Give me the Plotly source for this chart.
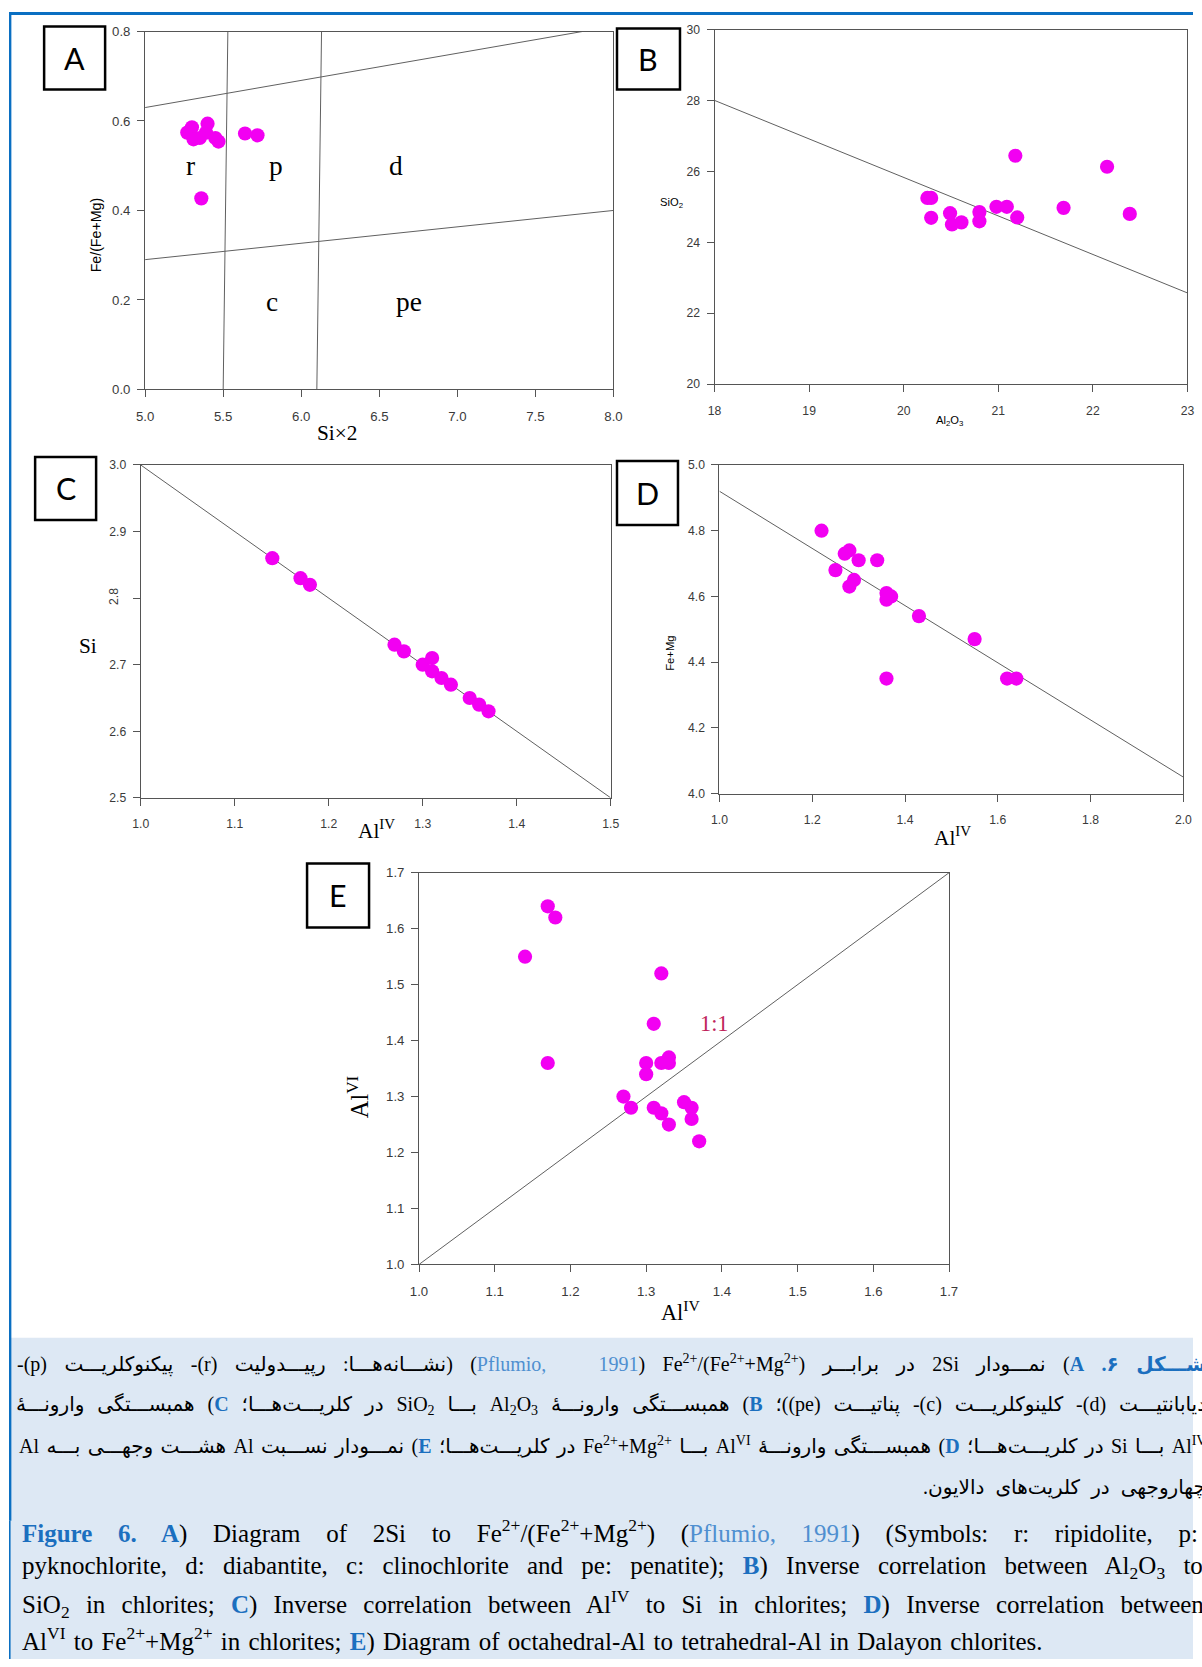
import plotly.graph_objects as go

W, H = 1202, 1667

# ---------------- data ----------------
# A) Fe/(Fe+Mg) vs Si x2 (Pflumio 1991)
a_si2 = [5.27, 5.30, 5.31, 5.35, 5.39, 5.40, 5.45, 5.47, 5.64, 5.72, 5.36]
a_fe_ratio = [0.574, 0.586, 0.559, 0.562, 0.574, 0.594, 0.562, 0.554, 0.572, 0.568, 0.427]
a_vline1_x = [5.50, 5.53]
a_vline2_x = [6.10, 6.13]
a_vline_y = [0.0, 0.8]
a_upper_x = [5.0, 7.8]
a_upper_y = [0.63, 0.80]
a_lower_x = [5.0, 8.0]
a_lower_y = [0.29, 0.40]
a_field_names = ["r", "p", "d", "c", "pe"]
a_field_x = [5.29, 5.84, 6.61, 5.81, 6.69]
a_field_y = [0.50, 0.50, 0.50, 0.195, 0.195]

# B) SiO2 vs Al2O3
b_al2o3 = [20.25, 20.29, 20.29, 20.49, 20.51, 20.61, 20.80, 20.80, 20.98, 21.09, 21.20, 21.18, 21.69, 22.15, 22.39]
b_sio2 = [25.25, 25.25, 24.69, 24.82, 24.50, 24.56, 24.85, 24.59, 25.00, 25.00, 24.70, 26.44, 24.97, 26.13, 24.80]
b_fit_x = [18, 23]
b_fit_y = [28.0, 22.57]

# C) Si vs Al(IV)
c_aliv = [1.14, 1.17, 1.18, 1.27, 1.28, 1.30, 1.31, 1.31, 1.32, 1.33, 1.35, 1.36, 1.37]
c_si = [2.86, 2.83, 2.82, 2.73, 2.72, 2.70, 2.71, 2.69, 2.68, 2.67, 2.65, 2.64, 2.63]
c_fit_x = [1.0, 1.5]
c_fit_y = [3.0, 2.5]

# D) Fe+Mg vs Al(IV)
d_aliv = [1.22, 1.25, 1.27, 1.28, 1.28, 1.29, 1.30, 1.34, 1.36, 1.36, 1.37, 1.36, 1.43, 1.55, 1.62, 1.64]
d_femg = [4.80, 4.68, 4.73, 4.74, 4.63, 4.65, 4.71, 4.71, 4.61, 4.59, 4.60, 4.35, 4.54, 4.47, 4.35, 4.35]
d_fit_x = [1.0, 2.0]
d_fit_y = [4.92, 4.05]

# E) Al(VI) vs Al(IV)
e_aliv = [1.17, 1.18, 1.14, 1.32, 1.31, 1.17, 1.30, 1.30, 1.32, 1.33, 1.33, 1.27, 1.28, 1.31, 1.32, 1.33, 1.35, 1.36, 1.36, 1.37]
e_alvi = [1.64, 1.62, 1.55, 1.52, 1.43, 1.36, 1.36, 1.34, 1.36, 1.37, 1.36, 1.30, 1.28, 1.28, 1.27, 1.25, 1.29, 1.28, 1.26, 1.22]
e_ref_x = [1.0, 1.7]
e_ref_y = [1.0, 1.7]

# ticks
a_xticks = [5.0, 5.5, 6.0, 6.5, 7.0, 7.5, 8.0]
a_yticks = [0.0, 0.2, 0.4, 0.6, 0.8]
b_xticks = [18, 19, 20, 21, 22, 23]
b_yticks = [20, 22, 24, 26, 28, 30]
c_xticks = [1.0, 1.1, 1.2, 1.3, 1.4, 1.5]
c_yticks = [2.5, 2.6, 2.7, 2.8, 2.9, 3.0]
c_ytext = ["2.5", "2.6", "2.7", "", "2.9", "3.0"]
d_xticks = [1.0, 1.2, 1.4, 1.6, 1.8, 2.0]
d_yticks = [4.0, 4.2, 4.4, 4.6, 4.8, 5.0]
e_ticks = [1.0, 1.1, 1.2, 1.3, 1.4, 1.5, 1.6, 1.7]

# ---------------- style ----------------
MAG = "#f200f2"
LINE = "#606060"
AX = "#555555"
BLUE = "#1b6fbf"
LBLUE = "#4f8fd0"
SANS = "Liberation Sans, Arial, sans-serif"
SERIF = "Liberation Serif, Times New Roman, serif"
FA = "Liberation Serif, DejaVu Sans, serif"

# the photographed page gets a thin white frame; positions below are given in
# picture pixels and converted to paper fractions with this compensation
PADX, PADY = 9.0, 6.5
KX = (W + 2 * PADX) / W
KY = (H + 2 * PADY) / H
SF = KX  # font / marker size compensation


def fx(p):
    return (p * KX - PADX) / W


def fy(p):
    return 1 - (p * KY - PADY) / H


def fs(v):
    return round(v * SF, 1)


fig = go.Figure()


def pts(x, y, xa, ya):
    fig.add_trace(go.Scatter(x=x, y=y, mode="markers", xaxis=xa, yaxis=ya,
                             marker=dict(size=fs(14), color=MAG, line=dict(width=0)),
                             showlegend=False, hoverinfo="x+y"))


def ln(x, y, xa, ya):
    fig.add_trace(go.Scatter(x=x, y=y, mode="lines", xaxis=xa, yaxis=ya,
                             line=dict(color=LINE, width=1),
                             showlegend=False, hoverinfo="skip"))


ln(a_vline1_x, a_vline_y, "x", "y")
ln(a_vline2_x, a_vline_y, "x", "y")
ln(a_upper_x, a_upper_y, "x", "y")
ln(a_lower_x, a_lower_y, "x", "y")
pts(a_si2, a_fe_ratio, "x", "y")
ln(b_fit_x, b_fit_y, "x2", "y2")
pts(b_al2o3, b_sio2, "x2", "y2")
ln(c_fit_x, c_fit_y, "x3", "y3")
pts(c_aliv, c_si, "x3", "y3")
ln(d_fit_x, d_fit_y, "x4", "y4")
pts(d_aliv, d_femg, "x4", "y4")
ln(e_ref_x, e_ref_y, "x5", "y5")
pts(e_aliv, e_alvi, "x5", "y5")


def axis(domain_px, rng, ticks, fmt, anchor, vertical, ticktext=None, size=12):
    lo, hi = domain_px
    if vertical:
        dom = [fy(hi), fy(lo)]
    else:
        dom = [fx(lo), fx(hi)]
    d = dict(domain=dom, range=rng, anchor=anchor, showgrid=False, zeroline=False,
             showline=True, mirror=True, linecolor=AX, linewidth=1,
             ticks="outside", ticklen=7, tickcolor=AX, tickwidth=1,
             tickvals=ticks, tickfont=dict(family=SANS, size=fs(size), color="#3a3a3a"),
             ticklabelstandoff=4 if vertical else 8, fixedrange=True)
    if ticktext is not None:
        d["ticktext"] = ticktext
    else:
        d["tickformat"] = fmt
    return d


fig.update_layout(
    autosize=True, margin=dict(l=0, r=0, t=0, b=0),
    paper_bgcolor="white", plot_bgcolor="white",
    xaxis=axis((145.0, 613.5), [5, 8], a_xticks, ".1f", "y", False, size=13),
    yaxis=axis((31, 389.3), [0, 0.8], a_yticks, ".1f", "x", True, size=13),
    xaxis2=axis((714.6, 1187.6), [18, 23], b_xticks, "d", "y2", False),
    yaxis2=axis((29, 384), [20, 30], b_yticks, "d", "x2", True),
    xaxis3=axis((140.6, 610.7), [1.0, 1.5], c_xticks, ".1f", "y3", False),
    yaxis3=axis((465, 798.3), [2.5, 3.0], c_yticks, ".1f", "x3", True, ticktext=c_ytext),
    xaxis4=axis((719.5, 1183.5), [1.0, 2.0], d_xticks, ".1f", "y4", False),
    yaxis4=axis((465, 794), [4.0, 5.0], d_yticks, ".1f", "x4", True),
    xaxis5=axis((419.0, 949.1), [1.0, 1.7], e_ticks, ".1f", "y5", False, size=13),
    yaxis5=axis((873.3, 1265.5), [1.0, 1.7], e_ticks, ".1f", "x5", True, size=13),
)

shapes = []
ann = []

# caption background and page border
shapes.append(dict(type="rect", xref="paper", yref="paper", x0=0, x1=1, y0=0, y1=fy(1339),
                   fillcolor="#dde8f4", line=dict(width=0), layer="below"))
shapes.append(dict(type="rect", xref="paper", yref="paper", x0=0, x1=1, y0=fy(14.5), y1=fy(11.5),
                   fillcolor="#0a6fc2", line=dict(width=0), layer="above"))
shapes.append(dict(type="rect", xref="paper", yref="paper", x0=0, x1=2.4 / W, y0=fy(1522), y1=fy(12),
                   fillcolor="#0a6fc2", line=dict(width=0), layer="above"))
shapes.append(dict(type="rect", xref="paper", yref="paper", x0=0, x1=1.6 / W, y0=0, y1=fy(1522),
                   fillcolor="#0a6fc2", line=dict(width=0), layer="above"))

# panel label boxes
boxes = [("A", 44, 105, 26, 89), ("B", 617, 680, 28, 89), ("C", 35, 96, 457, 520),
         ("D", 617, 678, 461, 525), ("E", 307, 369, 864, 928)]
for lab, x0, x1, y0, y1 in boxes:
    shapes.append(dict(type="rect", xref="paper", yref="paper", x0=fx(x0), x1=fx(x1), y0=fy(y1), y1=fy(y0),
                       fillcolor="white", line=dict(color="black", width=2.5), layer="above"))
    ann.append(dict(text=lab, xref="paper", yref="paper", x=fx((x0 + x1) / 2), y=fy((y0 + y1) / 2),
                    xanchor="center", yanchor="middle", showarrow=False,
                    font=dict(family="Lato, Open Sans, sans-serif", size=fs(30), color="black")))


def t(text, x, y, size, family=SANS, angle=0, color="black", xanchor="center"):
    ann.append(dict(text=text, xref="paper", yref="paper", x=fx(x), y=fy(y), xanchor=xanchor,
                    yanchor="middle", showarrow=False, textangle=angle,
                    font=dict(family=family, size=fs(size), color=color)))


t("Fe/(Fe+Mg)", 96, 235, 14, SANS, -90)
t("Si×2", 337, 433, 21, SERIF)
t("SiO<sub>2</sub>", 672, 203, 11, SANS)
t("Al<sub>2</sub>O<sub>3</sub>", 950, 421, 11, SANS)
t("Si", 88, 646, 21, SERIF)
t("2.8", 114, 597, 12, SANS, -90, "#3a3a3a")
t("Al<sup>IV</sup>", 376, 830, 21, SERIF)
t("Fe+Mg", 670, 653, 11, SANS, -90)
t("Al<sup>IV</sup>", 953, 837, 21, SERIF)
t("Al<sup>VI</sup>", 358, 1098, 24, SERIF, -90)
t("Al<sup>IV</sup>", 681, 1312, 22, SERIF)

for name, x, y in zip(a_field_names, a_field_x, a_field_y):
    ann.append(dict(text=name, xref="x", yref="y", x=x, y=y, showarrow=False,
                    font=dict(family=SERIF, size=fs(27), color="black")))
ann.append(dict(text="1:1", xref="x5", yref="y5", x=1.39, y=1.43, showarrow=False,
                font=dict(family=SERIF, size=fs(22), color="#c0245a")))


# ---------------- captions ----------------
def blue(s, bold=True, col=BLUE):
    return f"<span style='color:{col}'>" + (f"<b>{s}</b>" if bold else s) + "</span>"


def ws(s, px):
    return f"<span style='word-spacing:{px}px'>" + s + "</span>"


sup = lambda s: f"<sup>{s}</sup>"
sub = lambda s: f"<sub>{s}</sub>"
RLE, PDF, LRM, RLM = "\u202b", "\u202c", "\u200e", "\u200f"

fa_lines = [
    blue("شـــکل ۶. A") + ") نمـــودار 2Si در برابـــر Fe" + sup("2+") + "/(Fe" + sup("2+") + "+Mg"
    + sup("2+") + ")" + RLM + " (" + blue("Pflumio, &nbsp; 1991", False, LBLUE) + ")" + RLM
    + " (نشـــانه‌هـــا: رپیـــدولیت (r)- پیکنوکلریـــت (p)-",
    "دیابانتیـــت (d)- کلینوکلریـــت (c)- پناتیـــت (pe))؛ " + blue("B") + ") همبســـتگی وارونـــۀ Al" + sub("2")
    + "O" + sub("3") + " بـــا SiO" + sub("2") + " در کلریـــت‌هـــا؛ " + blue("C") + ") همبســـتگی وارونـــۀ",
    "Al" + sup("IV") + " بـــا Si در کلریـــت‌هـــا؛ " + blue("D") + ") همبســـتگی وارونـــۀ Al" + sup("VI")
    + " بـــا Fe" + sup("2+") + "+Mg" + sup("2+" + LRM) + " در کلریـــت‌هـــا؛ " + blue("E")
    + ") نمـــودار نســـبت Al هشـــت وجهـــی بـــه Al",
    "چهاروجهی در کلریت‌های دالایون.",
]
fa_ws = [12.4, 7.9, 2.4, 6]
fa_y = [1365, 1407, 1447, 1489]
for s, w, y in zip(fa_lines, fa_ws, fa_y):
    ann.append(dict(text=ws(RLE + s + PDF, w), xref="paper", yref="paper", x=fx(1208), y=fy(y),
                    xanchor="right", yanchor="middle", align="right", showarrow=False,
                    font=dict(family=FA, size=20, color="black")))

en_lines = [
    blue("Figure 6. A") + ") Diagram of 2Si to Fe" + sup("2+") + "/(Fe" + sup("2+") + "+Mg" + sup("2+") + ") ("
    + blue("Pflumio, 1991", False, LBLUE) + ") (Symbols: r: ripidolite, p:",
    "pyknochlorite, d: diabantite, c: clinochlorite and pe: penatite); " + blue("B")
    + ") Inverse correlation between Al" + sub("2") + "O" + sub("3") + " to",
    "SiO" + sub("2") + " in chlorites; " + blue("C") + ") Inverse correlation between Al" + sup("IV")
    + " to Si in chlorites; " + blue("D") + ") Inverse correlation between",
    "Al" + sup("VI") + " to Fe" + sup("2+") + "+Mg" + sup("2+") + " in chlorites; " + blue("E")
    + ") Diagram of octahedral-Al to tetrahedral-Al in Dalayon chlorites.",
]
en_ws = [19.4, 12, 10, 2]
en_y = [1533, 1569, 1605, 1641]
for s, w, y in zip(en_lines, en_ws, en_y):
    ann.append(dict(text=ws(s, w), xref="paper", yref="paper", x=fx(20), y=fy(y),
                    xanchor="left", yanchor="middle", align="left", showarrow=False,
                    font=dict(family=SERIF, size=25, color="black")))

fig.update_layout(shapes=shapes, annotations=ann)

# page div size; the trailing style block removes the browser's default 8px body margin
div_w = (f'{W}px;"></div><style>html,body{{margin:0 !important;padding:0 !important;'
         f'overflow:hidden;}}</style><div style="display:none')
fig.write_html("out.html", config={"displayModeBar": False},
               default_width=div_w, default_height=f"{H}px")
